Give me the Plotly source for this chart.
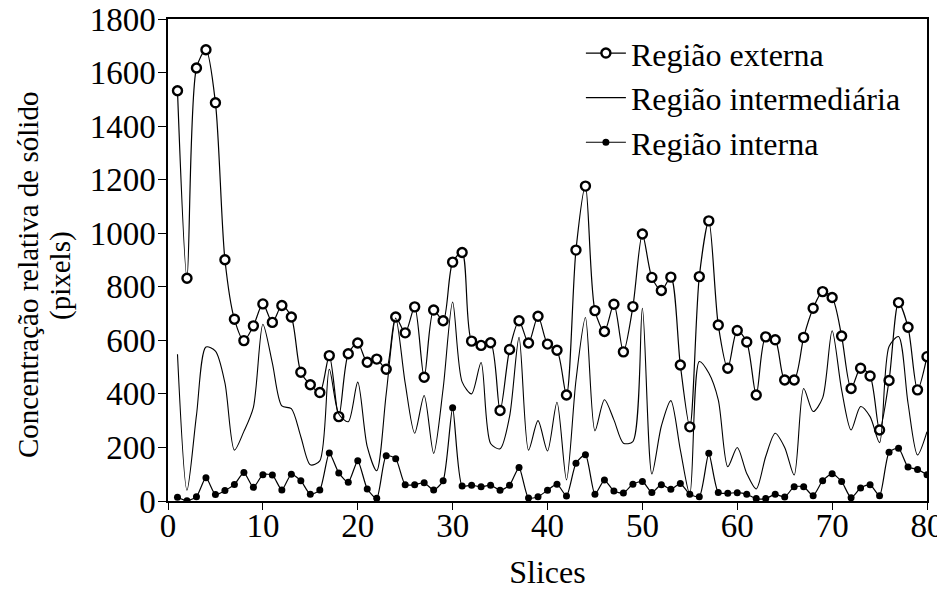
import plotly.graph_objects as go

slices = list(range(1, 81))

externa = [1532, 832, 1617, 1685, 1487, 901, 679, 599, 654, 736,
           667, 730, 687, 481, 434, 405, 543, 315, 550, 590,
           518, 530, 492, 687, 628, 725, 462, 713, 673, 892,
           928, 597, 581, 591, 338, 566, 673, 590, 690, 586,
           563, 396, 937, 1176, 711, 633, 735, 557, 726, 997,
           835, 786, 836, 508, 277, 838, 1046, 657, 496, 637,
           594, 396, 613, 602, 452, 452, 611, 720, 782, 760,
           616, 420, 496, 467, 265, 450, 741, 649, 415, 539]

intermediaria = [548, 40, 320, 575, 560, 441, 190, 260, 350, 660,
                 515, 355, 345, 240, 135, 150, 492, 325, 296, 444,
                 203, 113, 400, 683, 440, 253, 394, 178, 420, 743,
                 445, 400, 517, 215, 195, 315, 611, 190, 300, 187,
                 369, 79, 450, 685, 262, 378, 303, 216, 222, 720,
                 101, 280, 375, 191, 25, 521, 478, 378, 128, 200,
                 103, 45, 166, 253, 200, 97, 420, 334, 385, 636,
                 415, 265, 353, 315, 218, 577, 614, 365, 172, 259]

interna = [14, 1, 16, 87, 24, 39, 62, 106, 51, 98,
           97, 41, 100, 76, 25, 41, 179, 105, 70, 150,
           45, 10, 169, 158, 61, 61, 68, 41, 76, 348,
           56, 59, 53, 59, 40, 59, 125, 11, 16, 40,
           63, 19, 141, 173, 25, 78, 37, 30, 63, 73,
           32, 61, 44, 65, 25, 16, 178, 32, 29, 31,
           25, 9, 9, 25, 15, 53, 53, 20, 76, 102,
           73, 12, 49, 61, 20, 182, 197, 127, 118, 98]

names = ["Região externa", "Região intermediária", "Região interna"]
y_title_lines = ["Concentração relativa de sólido", "(pixels)"]
x_title = "Slices"

FONT = "Liberation Serif"

fig = go.Figure()
fig.add_trace(go.Scatter(
    x=slices, y=externa, name=names[0], mode="lines+markers",
    line=dict(color="black", width=1.2, shape="spline", smoothing=0.8),
    marker=dict(symbol="circle", size=9, color="white",
                line=dict(color="black", width=2.4))))
fig.add_trace(go.Scatter(
    x=slices, y=intermediaria, name=names[1], mode="lines",
    line=dict(color="black", width=1.1, shape="spline", smoothing=0.8)))
fig.add_trace(go.Scatter(
    x=slices, y=interna, name=names[2], mode="lines+markers",
    line=dict(color="black", width=1.2, shape="spline", smoothing=0.6),
    marker=dict(symbol="circle", size=7, color="black")))

fig.update_layout(
    width=937, height=582,
    margin=dict(l=160, r=18, t=11, b=89, autoexpand=False),
    paper_bgcolor="white", plot_bgcolor="white",
    font=dict(family=FONT, size=32, color="black"),
    showlegend=True,
    legend=dict(x=0.544, y=0.986, xanchor="left", yanchor="top",
                bgcolor="rgba(0,0,0,0)", font=dict(size=32),
                itemwidth=40, tracegroupgap=0),
)
fig.update_xaxes(
    range=[0, 80], tickvals=list(range(0, 81, 10)),
    showline=True, linecolor="black", linewidth=1.5, mirror=True,
    ticks="outside", ticklen=7, tickcolor="black", showgrid=False, zeroline=False,
    tickfont=dict(size=33), automargin=False, ticklabeloverflow="allow",
    ticklabelstandoff=-12,
    title=dict(text=x_title, standoff=19, font=dict(size=32)))
fig.update_yaxes(
    range=[0, 1800], tickvals=list(range(0, 1801, 200)),
    showline=True, linecolor="black", linewidth=1.5, mirror=True,
    ticks="outside", ticklen=8, tickcolor="black", showgrid=False, zeroline=False,
    tickfont=dict(size=33), automargin=False, ticklabeloverflow="allow",
    ticklabelstandoff=-4)

# y-axis title as two rotated lines placed like the original
for txt, xpx in zip(y_title_lines, [20, 52]):
    fig.add_annotation(
        text=txt, textangle=-90, showarrow=False,
        xref="paper", yref="paper",
        x=(xpx - 160) / 759, y=(493 - 267) / 482,
        xanchor="center", yanchor="middle",
        font=dict(family=FONT, size=29, color="black"))

fig.write_html("out.html")
